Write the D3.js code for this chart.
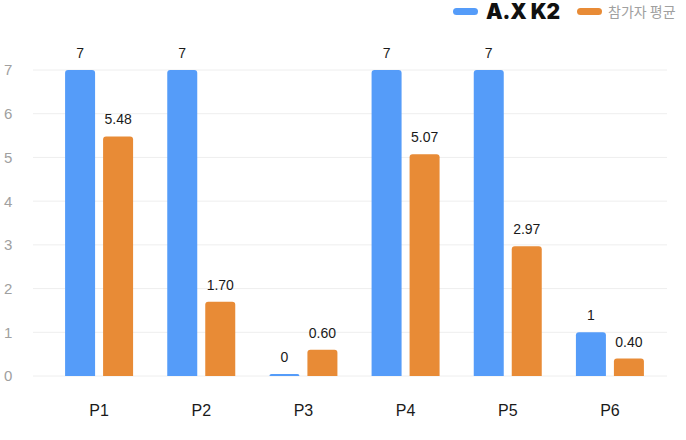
<!DOCTYPE html>
<html>
<head>
<meta charset="utf-8">
<script src="https://cdn.jsdelivr.net/npm/d3@7/dist/d3.min.js"></script>
<style>
  body { margin: 0; background: #fff; }
  svg { display: block; font-family: "Liberation Sans", "Noto Sans", "Noto Sans CJK KR", sans-serif; }
</style>
</head>
<body>
<svg id="chart" width="686" height="440"></svg>
<script>
const categories = ["P1", "P2", "P3", "P4", "P5", "P6"];
const seriesNames = ["A.X K2", "참가자 평균"];
const axK2 = [7, 7, 0, 7, 7, 1];
const participantAvg = [5.48, 1.70, 0.60, 5.07, 2.97, 0.40];
const axLabels = ["7", "7", "0", "7", "7", "1"];
const avgLabels = ["5.48", "1.70", "0.60", "5.07", "2.97", "0.40"];
const yTicks = [0, 1, 2, 3, 4, 5, 6, 7];

const colors = ["#559cf9", "#e88b36"];
const svg = d3.select("#chart");

const x = d3.scaleBand().domain(categories).range([48, 661]).padding(0);
const y = d3.scaleLinear().domain([0, 7]).range([376, 70]);

// gridlines
svg.append("g")
  .selectAll("line")
  .data(yTicks)
  .join("line")
  .attr("x1", 33).attr("x2", 667)
  .attr("y1", d => y(d)).attr("y2", d => y(d))
  .attr("stroke", "#eeeeee")
  .attr("stroke-width", 1);

// y tick labels
svg.append("g")
  .selectAll("text")
  .data(yTicks)
  .join("text")
  .attr("x", 4)
  .attr("y", d => y(d))
  .attr("dy", "0.36em")
  .attr("fill", "#a0a0a0")
  .style("font-size", "15px")
  .text(d => d);

// rounded-top bar path
function topRounded(x0, y0, w, h, r) {
  r = Math.min(r, h, w / 2);
  return `M${x0},${y0 + h}V${y0 + r}Q${x0},${y0} ${x0 + r},${y0}H${x0 + w - r}Q${x0 + w},${y0} ${x0 + w},${y0 + r}V${y0 + h}Z`;
}

const rows = categories.map((c, i) => ({ c, vals: [axK2[i], participantAvg[i]], labels: [axLabels[i], avgLabels[i]] }));
const barW = 30, gap = 8;

const groups = svg.append("g")
  .selectAll("g")
  .data(rows)
  .join("g")
  .attr("transform", d => `translate(${x(d.c) + x.bandwidth() / 2 - barW - gap / 2},0)`);

groups.selectAll("path")
  .data(d => d.vals.map((v, k) => ({ v, k })))
  .join("path")
  .attr("d", d => {
    const top = Math.min(y(d.v), y(0) - 2);
    return topRounded(d.k * (barW + gap), top, barW, y(0) - top, 3);
  })
  .attr("fill", d => colors[d.k]);

groups.selectAll("text")
  .data(d => d.vals.map((v, k) => ({ v, k, label: d.labels[k] })))
  .join("text")
  .attr("x", d => d.k * (barW + gap) + barW / 2)
  .attr("y", d => Math.min(y(d.v), y(0) - 2) - 12)
  .attr("text-anchor", "middle")
  .attr("fill", "#1a1a1a")
  .style("font-size", "14px")
  .text(d => d.label);

// x labels
svg.append("g")
  .selectAll("text")
  .data(categories)
  .join("text")
  .attr("x", d => x(d) + x.bandwidth() / 2)
  .attr("y", 416)
  .attr("text-anchor", "middle")
  .attr("fill", "#1a1a1a")
  .style("font-size", "16px")
  .text(d => d);

// legend
const legend = svg.append("g");
legend.append("rect").attr("x", 453).attr("y", 8).attr("width", 25).attr("height", 7).attr("rx", 3.5).attr("fill", colors[0]);
legend.append("text").attr("x", 486).attr("y", 19)
  .attr("fill", "#111").style("font-size", "21px").style("font-weight", "900")
  .style("font-family", "Inter, 'Noto Sans', sans-serif")
  .attr("textLength", 74)
  .text(seriesNames[0]);
legend.append("rect").attr("x", 577).attr("y", 8).attr("width", 25).attr("height", 7).attr("rx", 3.5).attr("fill", colors[1]);
legend.append("text").attr("x", 608).attr("y", 17)
  .attr("fill", "#a0a0a0").style("font-size", "14px")
  .style("font-family", "'Noto Sans CJK KR', sans-serif")
  .text(seriesNames[1]);
</script>
</body>
</html>
